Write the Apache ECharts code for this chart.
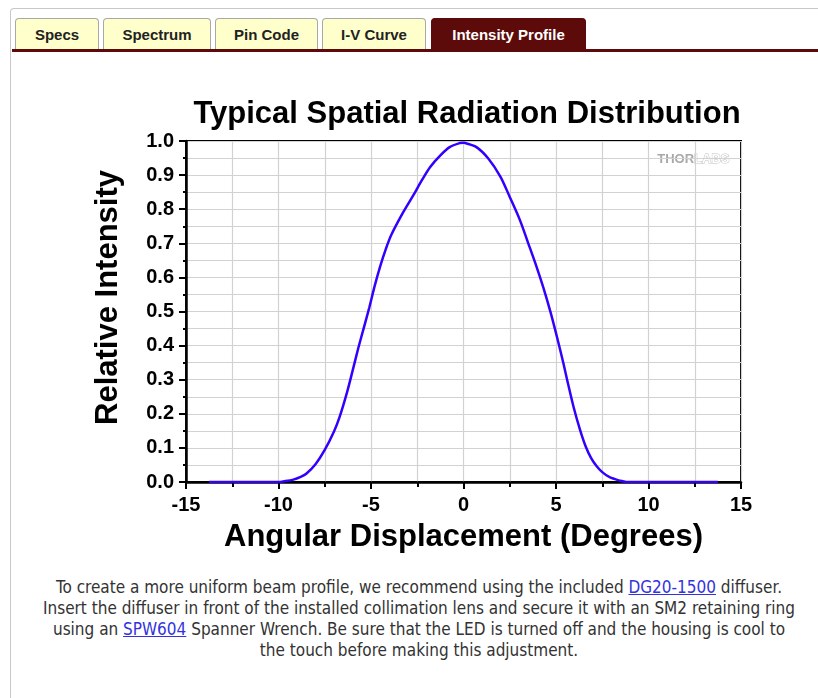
<!DOCTYPE html>
<html>
<head>
<meta charset="utf-8">
<script src="https://cdn.jsdelivr.net/npm/echarts@6/dist/echarts.min.js"></script>
<style>
    body { margin: 0; background: #fff; font-family: "Liberation Sans", Arial, sans-serif; }
    #page { position: relative; width: 818px; height: 698px; overflow: hidden; }
    #frame { position: absolute; left: 10px; top: 8px; width: 820px; height: 700px;
             border-left: 1px solid #c8c8c8; border-top: 1px solid #c8c8c8; border-top-left-radius: 4px; }
    .tab { position: absolute; top: 18px; height: 31px; line-height: 31px; text-align: center;
           background: #ffffcc; border: 1px solid #a8a8a8; border-bottom: none;
           border-radius: 4px 4px 0 0; font-weight: bold; font-size: 15px; color: #222; }
    .tab.on { background: #5c0a0a; color: #fff; border-color: #5c0a0a; }
    #bar { position: absolute; left: 12px; right: 0; top: 49px; height: 3px; background: #5c0a0a; }
    #myChart { position: absolute; left: 0; top: 60px; width: 818px; height: 510px; }
    #note { position: absolute; left: 0; width: 838px; top: 577px; text-align: center;
            font-family: "DejaVu Sans Condensed", "DejaVu Sans", sans-serif;
            font-size: 17px; line-height: 21px; color: #333; white-space: nowrap; }
    #note a { color: #3333dd; }
</style>
</head>
<body>
<div id="page">
    <div id="frame"></div>
    <div class="tab" style="left:15px;width:82px;">Specs</div>
    <div class="tab" style="left:103px;width:106px;">Spectrum</div>
    <div class="tab" style="left:215px;width:101px;">Pin Code</div>
    <div class="tab" style="left:322px;width:102px;">I-V Curve</div>
    <div class="tab on" style="left:431px;width:153px;">Intensity Profile</div>
    <div id="bar"></div>
    <div id="myChart"></div>
    <div id="note">
        To create a more uniform beam profile, we recommend using the included <a href="#">DG20-1500</a> diffuser.<br>
        Insert the diffuser in front of the installed collimation lens and secure it with an SM2 retaining ring<br>
        using an <a href="#">SPW604</a> Spanner Wrench. Be sure that the LED is turned off and the housing is cool to<br>
        the touch before making this adjustment.
    </div>
</div>
<script>
// 角度 (deg)
var angle = [-13.75, -12, -10, -9.7, -9.2, -8.8, -8.5, -8.0, -7.5, -7.0, -6.7, -6.3, -6.0, -5.7, -5.4, -5.1,
    -4.8, -4.5, -4.2, -3.9, -3.25, -2.7, -2.25, -1.8, -1.25, -0.75, -0.2, 0, 0.1, 0.7, 1.35, 2.0, 2.5,
    3.05, 3.5, 3.95, 4.3, 4.7, 5.05, 5.4, 5.6, 5.95, 6.3, 6.6, 6.9, 7.2, 7.5, 7.9, 8.45, 8.8, 10, 12, 13.75];
// 相对强度
var intensity = [0, 0, 0, 0.002, 0.007, 0.015, 0.024, 0.052, 0.094, 0.148, 0.19, 0.262, 0.325, 0.39, 0.45, 0.51,
    0.575, 0.633, 0.683, 0.725, 0.792, 0.842, 0.885, 0.924, 0.958, 0.982, 0.994, 0.995, 0.994, 0.982, 0.948, 0.895, 0.836,
    0.768, 0.70, 0.631, 0.573, 0.499, 0.426, 0.348, 0.30, 0.22, 0.153, 0.105, 0.07, 0.046, 0.029, 0.014, 0.004, 0, 0, 0, 0];

var xTicks = [-15, -10, -5, 0, 5, 10, 15];
var yTicks = [0.0, 0.1, 0.2, 0.3, 0.4, 0.5, 0.6, 0.7, 0.8, 0.9, 1.0];

var seriesData = angle.map(function (a, i) { return [a, intensity[i]]; });

var myChart = echarts.init(document.getElementById('myChart'));
var labelFont = { color: '#000', fontSize: 20, fontWeight: 'bold', fontFamily: 'Liberation Sans' };
var nameFont = { color: '#000', fontSize: 31, fontWeight: 'bold', fontFamily: 'Liberation Sans' };
myChart.setOption({
    animation: false,
    title: {
        text: 'Typical Spatial Radiation Distribution',
        left: 462,
        top: 34,
        textAlign: 'center',
        textStyle: nameFont
    },
    grid: {
        left: 186,
        right: 77,
        top: 81,
        bottom: 88,
        show: true,
        borderColor: '#000',
        borderWidth: 2
    },
    graphic: [{
        type: 'text',
        right: 88,
        top: 92,
        style: {
            text: '{a|THOR}{b|LABS}',
            rich: {
                a: { fill: '#a8a8a8', fontSize: 13, fontWeight: 'bold', fontFamily: 'Liberation Sans' },
                b: { fill: '#fff', stroke: '#c0c0c0', lineWidth: 1, fontSize: 13, fontWeight: 'bold', fontFamily: 'Liberation Sans' }
            }
        }
    }],
    xAxis: {
        type: 'value',
        min: xTicks[0],
        max: xTicks[xTicks.length - 1],
        interval: 5,
        name: 'Angular Displacement (Degrees)',
        nameLocation: 'middle',
        nameGap: 40,
        nameTextStyle: nameFont,
        axisLine: { onZero: false, lineStyle: { color: '#000', width: 2.5 } },
        axisTick: { show: true, length: 7, lineStyle: { color: '#000', width: 2 } },
        minorTick: { show: true, splitNumber: 2, length: 5, lineStyle: { color: '#000', width: 2 } },
        axisLabel: Object.assign({ margin: 13 }, labelFont),
        splitLine: { show: true, lineStyle: { color: '#d2d2d2', width: 1.2 } },
        minorSplitLine: { show: true, lineStyle: { color: '#d2d2d2', width: 1.2 } }
    },
    yAxis: {
        type: 'value',
        min: yTicks[0],
        max: yTicks[yTicks.length - 1],
        interval: 0.1,
        name: 'Relative Intensity',
        nameLocation: 'middle',
        nameGap: 62,
        nameTextStyle: Object.assign({ padding: [0, 0, 0, 28] }, nameFont),
        axisLine: { onZero: false, lineStyle: { color: '#000', width: 2.5 } },
        axisTick: { show: true, length: 7, lineStyle: { color: '#000', width: 2 } },
        minorTick: { show: true, splitNumber: 2, length: 3, lineStyle: { color: '#000', width: 2 } },
        axisLabel: Object.assign({
            margin: 12,
            formatter: function (v) { return v.toFixed(1); }
        }, labelFont),
        splitLine: { show: true, lineStyle: { color: '#d2d2d2', width: 1.2 } },
        minorSplitLine: { show: true, lineStyle: { color: '#d2d2d2', width: 1.2 } }
    },
    series: [{
        type: 'line',
        data: seriesData,
        smooth: 0.3,
        showSymbol: false,
        lineStyle: { color: '#3300ff', width: 2.5 },
        z: 5
    }]
});
</script>
</body>
</html>
